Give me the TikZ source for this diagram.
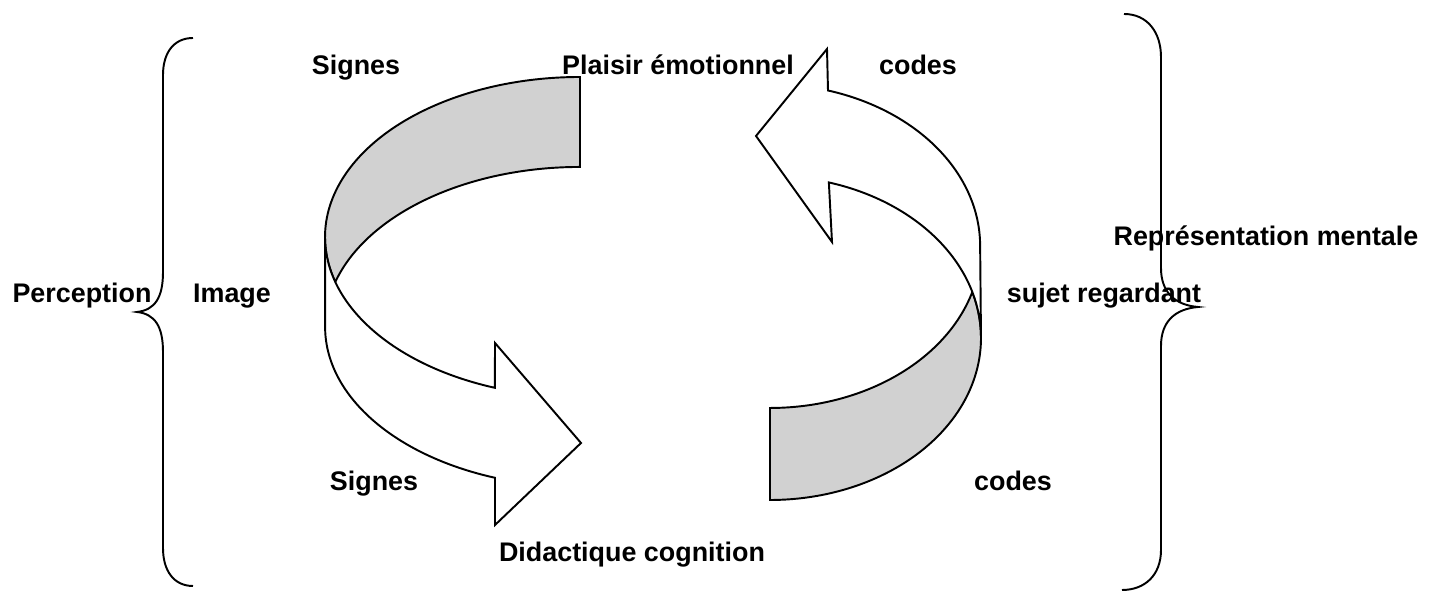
\documentclass[tikz,border=0pt]{standalone}
\usepackage{fontspec}
\setmainfont{Liberation Sans}
\definecolor{ribbongray}{gray}{0.82}

\begin{document}
\begin{tikzpicture}[
    outline/.style={line width=1.1pt, line join=miter},
    inside/.style={outline, fill=ribbongray},
    outside/.style={outline, fill=white},
    lbl/.style={font=\fontsize{15.3}{18}\selectfont\bfseries, inner sep=0pt, anchor=base}
]
    \useasboundingbox (0,0) rectangle (28.68,11.9);

    % Left ribbon, inner face
    \draw[inside] (11.6,10.36) arc[start angle=90, end angle=196.33, x radius=5.1, y radius=3.2]
        arc[start angle=163.67, end angle=90, x radius=5.1, y radius=3.2] -- cycle;
    % Left ribbon, outer face with head
    \draw[outside] (6.5,7.16) arc[start angle=180, end angle=250.5, x radius=5.1, y radius=3.2]
        -- (9.9,5.04) -- (11.62,3.04) -- (9.9,1.4) -- (9.9,2.344)
        arc[start angle=250.5, end angle=180, x radius=5.1, y radius=3.2] -- cycle;

    % Right ribbon, inner face
    \draw[inside] (15.4,1.9) arc[start angle=270, end angle=376.5, x radius=4.22, y radius=3.24]
        arc[start angle=343.5, end angle=270, x radius=4.22, y radius=3.24] -- cycle;
    % Right ribbon, outer face with head
    \draw[outside] (19.62,5.14) arc[start angle=0, end angle=73.8, x radius=4.22, y radius=3.24]
        -- (16.64,7.06) -- (15.12,9.18) -- (16.54,10.92) -- (16.56,10.09)
        arc[start angle=73.8, end angle=0, x radius=4.22, y radius=3.24] -- cycle;

    % Braces
    \draw[outline] (3.86,11.14) .. controls (3.48,11.14) and (3.26,10.85) .. (3.26,10.4)
        -- (3.26,6.46) .. controls (3.26,5.95) and (3.1,5.7) .. (2.74,5.66)
        .. controls (3.1,5.62) and (3.26,5.37) .. (3.26,4.86)
        -- (3.26,0.94) .. controls (3.26,0.48) and (3.48,0.18) .. (3.86,0.18);
    \draw[outline] (22.48,11.62) .. controls (22.95,11.62) and (23.22,11.25) .. (23.22,10.76)
        -- (23.22,6.54) .. controls (23.22,6.05) and (23.5,5.8) .. (23.96,5.76)
        .. controls (23.5,5.72) and (23.22,5.47) .. (23.22,4.98)
        -- (23.22,0.9) .. controls (23.22,0.4) and (22.9,0.1) .. (22.44,0.1);

    % Labels
    \node[lbl] (signesA) at (7.12,10.4) {Signes};
    \node[lbl] (plaisir) at (13.56,10.4) {Plaisir émotionnel};
    \node[lbl] (codesA) at (18.36,10.4) {codes};
    \node[lbl] (repr) at (25.32,6.98) {Représentation mentale};
    \node[lbl] (percep) at (1.64,5.84) {Perception};
    \node[lbl] (image) at (4.64,5.84) {Image};
    \node[lbl] (sujet) at (22.08,5.84) {sujet regardant};
    \node[lbl] (signesB) at (7.48,2.08) {Signes};
    \node[lbl] (codesB) at (20.26,2.08) {codes};
    \node[lbl] (didact) at (12.64,0.66) {Didactique cognition};
\end{tikzpicture}
\end{document}
